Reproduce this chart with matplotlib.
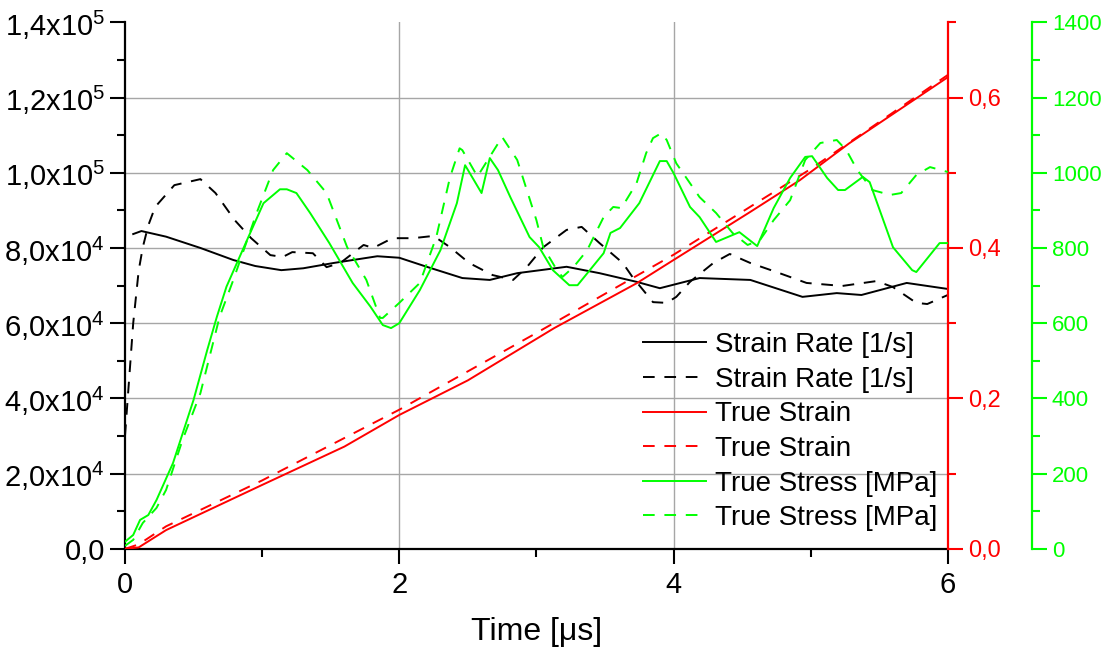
import matplotlib
matplotlib.use('Agg')
import matplotlib.pyplot as plt
from matplotlib.ticker import MultipleLocator, FixedLocator
import numpy as np

plt.rcParams['font.family'] = ['Liberation Sans', 'DejaVu Sans']
plt.rcParams['mathtext.fontset'] = 'custom'
plt.rcParams['mathtext.rm'] = 'Liberation Sans'

GREEN = '#00ff00'
RED = '#ff0000'

# strain rate [1/s], left axis
t_rate_a = [0.06, 0.12, 0.30, 0.55, 0.79, 0.95, 1.14, 1.30, 1.52, 1.84, 2.0, 2.2, 2.46, 2.66, 2.86,
            3.22, 3.46, 3.73, 3.90, 4.19, 4.56, 4.94, 5.19, 5.37, 5.70, 6.0]
rate_a = [83700, 84500, 83000, 80000, 76800, 75200, 74100, 74600, 76000, 77800, 77400, 75000, 72000,
          71500, 73300, 75000, 73300, 71000, 69300, 72000, 71500, 67000, 68000, 67500, 70700, 69100]

t_rate_b = [0, 0.03, 0.06, 0.10, 0.13, 0.17, 0.22, 0.36, 0.55, 0.66, 0.80, 0.92, 1.06, 1.15, 1.22,
            1.37, 1.47, 1.57, 1.74, 1.81, 1.95, 2.10, 2.25, 2.37, 2.51, 2.68, 2.83, 2.93, 3.05, 3.22,
            3.33, 3.46, 3.63, 3.70, 3.85, 3.95, 4.02, 4.12, 4.29, 4.41, 4.56, 4.75, 4.97, 5.23, 5.48,
            5.60, 5.77, 5.85, 6.0]
rate_b = [30000, 45000, 60000, 74000, 80200, 86000, 90900, 96700, 98300, 94600, 87400, 82600, 78100,
          77600, 78900, 78600, 74900, 76000, 80800, 80000, 82600, 82600, 83200, 80200, 76000, 72800,
          71500, 74900, 80200, 84800, 85600, 81300, 76000, 72300, 65600, 65400, 67000, 71000, 76000,
          78400, 76000, 73600, 70700, 69900, 71200, 69600, 65400, 65100, 67500]

# true strain, red axis
t_strain_a = [0, 0.1, 0.3, 1.0, 1.6, 2.0, 2.5, 3.13, 3.73, 4.0, 4.56, 4.92, 5.28, 6.0]
strain_a = [0, 0.002, 0.025, 0.085, 0.136, 0.178, 0.224, 0.2935, 0.353, 0.384, 0.448, 0.49, 0.539, 0.627]

t_strain_b = [0, 0.1, 0.3, 1.0, 2.0, 3.0, 4.0, 5.0, 6.0]
strain_b = [0, 0.006, 0.03, 0.091, 0.185, 0.287, 0.391, 0.505, 0.630]

# true stress [MPa], green axis
t_stress_a = [0, 0.06, 0.11, 0.17, 0.23, 0.35, 0.50, 0.60, 0.67, 0.74, 0.89, 1.01, 1.13, 1.18, 1.25,
              1.35, 1.49, 1.66, 1.79, 1.88, 1.94, 2.0, 2.15, 2.30, 2.42, 2.48, 2.60, 2.66, 2.72, 2.81,
              2.95, 3.02, 3.12, 3.24, 3.30, 3.49, 3.54, 3.61, 3.75, 3.90, 3.95, 4.0, 4.12, 4.19, 4.31,
              4.48, 4.61, 4.73, 4.85, 4.96, 5.01, 5.12, 5.20, 5.25, 5.38, 5.43, 5.60, 5.74, 5.77, 5.94, 6.0]
stress_a = [19, 37, 77, 90, 130, 228, 396, 529, 617, 697, 821, 919, 956, 956, 946, 893, 813, 707, 644,
            595, 587, 600, 688, 794, 919, 1020, 946, 1039, 1007, 935, 829, 802, 741, 701, 701, 786, 840,
            853, 919, 1031, 1031, 999, 909, 882, 816, 842, 805, 906, 986, 1042, 1044, 986, 954, 954, 989,
            975, 802, 741, 736, 813, 813]

t_stress_b = [0, 0.06, 0.13, 0.23, 0.30, 0.42, 0.55, 0.69, 0.79, 0.96, 1.08, 1.18, 1.33, 1.47, 1.62,
              1.76, 1.86, 1.88, 2.0, 2.15, 2.27, 2.37, 2.44, 2.46, 2.57, 2.75, 2.86, 2.93, 3.0, 3.05,
              3.15, 3.19, 3.27, 3.37, 3.49, 3.56, 3.62, 3.73, 3.80, 3.85, 3.91, 3.95, 4.02, 4.09, 4.19,
              4.31, 4.43, 4.54, 4.63, 4.73, 4.85, 4.96, 5.07, 5.19, 5.26, 5.34, 5.45, 5.58, 5.66, 5.77,
              5.87, 6.0]
stress_b = [8, 24, 69, 109, 157, 290, 414, 617, 715, 893, 1007, 1052, 1007, 946, 802, 715, 614, 614, 654,
            707, 829, 988, 1065, 1060, 990, 1095, 1034, 954, 874, 802, 741, 723, 749, 794, 882, 909, 906,
            972, 1052, 1092, 1105, 1087, 1025, 988, 935, 893, 840, 808, 821, 874, 927, 1034, 1079, 1087,
            1060, 1007, 954, 941, 946, 994, 1015, 1002]

left_ticks = [0, 2e4, 4e4, 6e4, 8e4, 1e5, 1.2e5, 1.4e5]
left_labels = ['0,0', '2,0x10$\\mathregular{^4}$', '4,0x10$\\mathregular{^4}$', '6,0x10$\\mathregular{^4}$',
               '8,0x10$\\mathregular{^4}$', '1,0x10$\\mathregular{^5}$', '1,2x10$\\mathregular{^5}$',
               '1,4x10$\\mathregular{^5}$']
red_ticks = [0, 0.2, 0.4, 0.6]
red_labels = ['0,0', '0,2', '0,4', '0,6']

fig = plt.figure(figsize=(11.06, 6.55), dpi=100)
ax = fig.add_axes([0.113, 0.162, 0.744, 0.804])
ax_r = ax.twinx()
ax_g = ax.twinx()

lw = 1.4
dash = (0, (6, 5))
h1, = ax.plot(t_rate_a, rate_a, color='black', lw=lw, label='Strain Rate [1/s]')
h2, = ax.plot(t_rate_b, rate_b, color='black', lw=lw, ls=dash, label='Strain Rate [1/s]')
h3, = ax_r.plot(t_strain_a, strain_a, color=RED, lw=lw, label='True Strain')
h4, = ax_r.plot(t_strain_b, strain_b, color=RED, lw=lw, ls=dash, label='True Strain')
h5, = ax_g.plot(t_stress_a, stress_a, color=GREEN, lw=lw, label='True Stress [MPa]')
h6, = ax_g.plot(t_stress_b, stress_b, color=GREEN, lw=lw, ls=dash, label='True Stress [MPa]')

ax.set_xlim(0, 6)
ax.set_ylim(0, 1.4e5)
ax_r.set_ylim(0, 0.7)
ax_g.set_ylim(0, 1400)

spine_w = 1.6
for a in (ax, ax_r, ax_g):
    for s in a.spines.values():
        s.set_linewidth(spine_w)
    a.spines['top'].set_visible(False)

ax.spines['right'].set_visible(False)
ax_r.spines['left'].set_visible(False)
ax_g.spines['left'].set_visible(False)
ax_r.spines['bottom'].set_visible(False)
ax_g.spines['bottom'].set_visible(False)
ax_r.spines['right'].set_color(RED)
ax_g.spines['right'].set_color(GREEN)
ax_g.spines['right'].set_position(('axes', 1.102))

ax.xaxis.set_major_locator(FixedLocator([0, 2, 4, 6]))
ax.xaxis.set_minor_locator(FixedLocator([1, 3, 5]))
ax.set_yticks(left_ticks)
ax.set_yticklabels(left_labels)
ax.yaxis.set_minor_locator(MultipleLocator(1e4))
ax.tick_params(axis='both', which='major', direction='out', length=11, width=1.5, labelsize=21)
ax.tick_params(axis='both', which='minor', direction='out', length=6, width=1.5)
ax.tick_params(axis='x', labelsize=21, pad=5)

ax_r.set_yticks(red_ticks)
ax_r.set_yticklabels(red_labels)
ax_r.yaxis.set_minor_locator(MultipleLocator(0.1))
ax_r.tick_params(which='major', length=11, width=1.5, color=RED, labelcolor=RED, labelsize=17)
ax_r.tick_params(which='minor', length=6, width=1.5, color=RED)

ax_g.yaxis.set_major_locator(MultipleLocator(200))
ax_g.yaxis.set_minor_locator(MultipleLocator(100))
ax_g.tick_params(which='major', length=11, width=1.5, color=GREEN, labelcolor=GREEN, labelsize=16)
ax_g.tick_params(which='minor', length=6, width=1.5, color=GREEN)

ax.grid(True, color='#a6a6a6', lw=1.0)
ax.set_axisbelow(True)
fig.canvas.draw()
ax.yaxis.get_gridlines()[-1].set_visible(False)
ax.yaxis.get_gridlines()[0].set_visible(False)
ax.xaxis.get_gridlines()[0].set_visible(False)
ax.xaxis.get_gridlines()[-1].set_visible(False)

ax.set_xlabel('Time [μs]', fontsize=23, labelpad=13)

ax_g.legend(handles=[h1, h2, h3, h4, h5, h6], loc='upper left', bbox_to_anchor=(0.581, 0.493),
            bbox_transform=fig.transFigure, frameon=False, fontsize=20, handlelength=2.3,
            handletextpad=0.3, labelspacing=0.31, borderpad=0, borderaxespad=0)

plt.savefig('out.png', dpi=100)
plt.close()
